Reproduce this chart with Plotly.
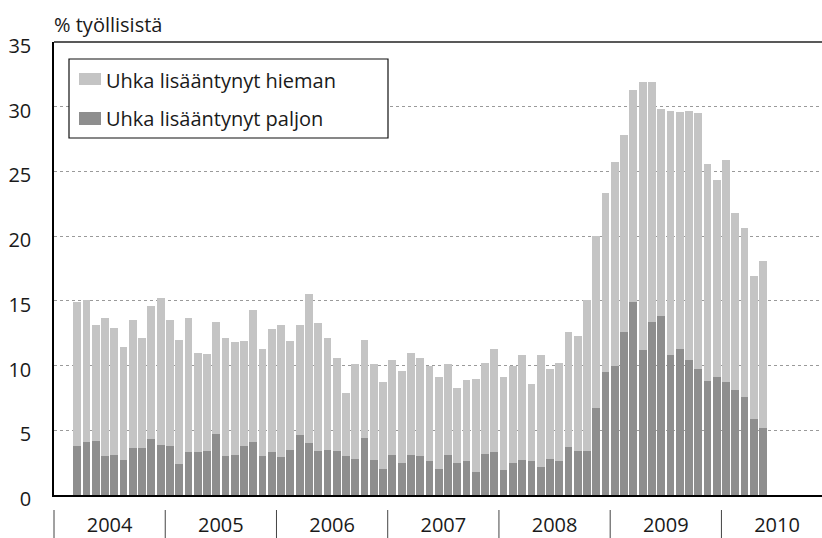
import plotly.graph_objects as go
import pandas as pd

# ---- data ----
months = pd.period_range("2004-03", "2010-05", freq="M")

paljon = [3.8, 4.1, 4.2, 3.0, 3.1, 2.7, 3.6, 3.6, 4.3, 3.9,
          3.8, 2.4, 3.3, 3.3, 3.4, 4.7, 3.0, 3.1, 3.8, 4.1, 3.0, 3.3,
          2.9, 3.5, 4.6, 4.0, 3.4, 3.5, 3.4, 3.0, 2.8, 4.4, 2.7, 2.0,
          3.1, 2.5, 3.1, 3.0, 2.6, 2.0, 3.1, 2.5, 2.6, 1.8, 3.2, 3.3,
          1.9, 2.5, 2.7, 2.6, 2.2, 2.8, 2.6, 3.7, 3.4, 3.4, 6.7, 9.5,
          10.0, 12.6, 14.9, 11.2, 13.4, 13.8, 10.8, 11.3, 10.4, 9.7, 8.8, 9.1,
          8.7, 8.1, 7.6, 5.9, 5.2]

hieman = [11.1, 11.0, 8.9, 10.7, 9.8, 8.7, 9.9, 8.5, 10.3, 11.3,
          9.7, 9.6, 10.4, 7.7, 7.5, 8.7, 9.1, 8.7, 8.1, 10.2, 8.3, 9.5,
          10.2, 8.4, 8.5, 11.5, 9.9, 8.6, 7.2, 4.9, 7.3, 7.6, 7.4, 6.7,
          7.3, 7.1, 7.9, 7.6, 7.4, 7.1, 7.0, 5.8, 6.3, 7.2, 7.0, 8.0,
          7.2, 7.5, 8.1, 6.0, 8.6, 6.9, 7.6, 8.9, 8.9, 11.7, 13.3, 13.8,
          15.7, 15.2, 16.4, 20.7, 18.5, 16.0, 18.9, 18.3, 19.3, 19.8, 16.8, 15.2,
          17.2, 13.7, 13.0, 11.0, 12.9]

years = [2004, 2005, 2006, 2007, 2008, 2009, 2010]
yticks = [0, 5, 10, 15, 20, 25, 30, 35]

names = ["Uhka lisääntynyt hieman", "Uhka lisääntynyt paljon"]
title_text = "% työllisistä"

# ---- layout constants ----
W, H = 822, 538
ML, MR, MT, MB = 54, 0, 42, 43
PW, PH = W - ML - MR, H - MT - MB
XMAX = 82.85
C_LIGHT = "#c4c4c4"
C_DARK = "#8e8e8e"
FONT = "Open Sans"
TXT = "#1a1a1a"

def px(x):
    return (x - ML) / PW

def py(y):
    return (H - MB - y) / PH

x = [(p.year - 2004) * 12 + (p.month - 1) + 0.5 for p in months]

fig = go.Figure()
fig.add_trace(go.Bar(x=x, y=paljon, name=names[1], marker_color=C_DARK,
                     marker_line_width=0, width=0.84, showlegend=False))
fig.add_trace(go.Bar(x=x, y=hieman, name=names[0], marker_color=C_LIGHT,
                     marker_line_width=0, width=0.84, showlegend=False))

shapes = []
# top frame line
shapes.append(dict(type="line", xref="paper", yref="paper", x0=0, x1=1, y0=1, y1=1,
                   line=dict(color="#222", width=1.5)))
# year separators below axis
for i in range(len(years)):
    xm = i * 12
    shapes.append(dict(type="line", xref="paper", yref="paper",
                       x0=xm / XMAX, x1=xm / XMAX, y0=py(510), y1=py(538),
                       line=dict(color="#444", width=1)))
# legend box and swatches
shapes.append(dict(type="rect", xref="paper", yref="paper",
                   x0=px(69), x1=px(388), y0=py(59), y1=py(138),
                   line=dict(color="#111", width=1.2), fillcolor="white", layer="above"))
shapes.append(dict(type="rect", xref="paper", yref="paper",
                   x0=px(79), x1=px(101), y0=py(73), y1=py(85),
                   line=dict(width=0), fillcolor=C_LIGHT, layer="above"))
shapes.append(dict(type="rect", xref="paper", yref="paper",
                   x0=px(79), x1=px(101), y0=py(112), y1=py(125),
                   line=dict(width=0), fillcolor=C_DARK, layer="above"))

annotations = [
    dict(text=names[0], xref="paper", yref="paper", x=px(104), y=py(80),
         xanchor="left", yanchor="middle", showarrow=False,
         font=dict(family=FONT, size=20, color=TXT)),
    dict(text=names[1], xref="paper", yref="paper", x=px(104), y=py(119),
         xanchor="left", yanchor="middle", showarrow=False,
         font=dict(family=FONT, size=20, color=TXT)),
    dict(text=title_text, xref="paper", yref="paper", x=px(52), y=py(24),
         xanchor="left", yanchor="middle", showarrow=False,
         font=dict(family=FONT, size=20, color=TXT)),
]

fig.update_layout(
    template="none",
    width=W, height=H,
    margin=dict(l=ML, r=MR, t=MT, b=MB, pad=0, autoexpand=False),
    paper_bgcolor="white", plot_bgcolor="white",
    barmode="stack",
    showlegend=False,
    hovermode=False,
    shapes=shapes,
    annotations=annotations,
    font=dict(family=FONT, size=20, color=TXT),
    xaxis=dict(range=[0, XMAX], showgrid=False, zeroline=False, automargin=False,
               showline=True, linecolor="#000", linewidth=2,
               tickvals=[(yr - 2004) * 12 + 6 for yr in years],
               ticktext=[str(yr) for yr in years],
               ticks="", ticklabelstandoff=11,
               tickfont=dict(family=FONT, size=20, color=TXT)),
    yaxis=dict(range=[0, 35], tickvals=yticks, showgrid=True, automargin=False,
               gridcolor="#9a9a9a", griddash="dot", gridwidth=1,
               zeroline=False, showline=True, linecolor="#000", linewidth=1.5,
               ticks="", ticklabelstandoff=17, ticklabelshift=4,
               tickfont=dict(family=FONT, size=20, color=TXT)),
)

fig.write_html("out.html", config={"displayModeBar": False},
               post_script="document.body.style.margin='0';document.body.style.overflow='hidden';")
